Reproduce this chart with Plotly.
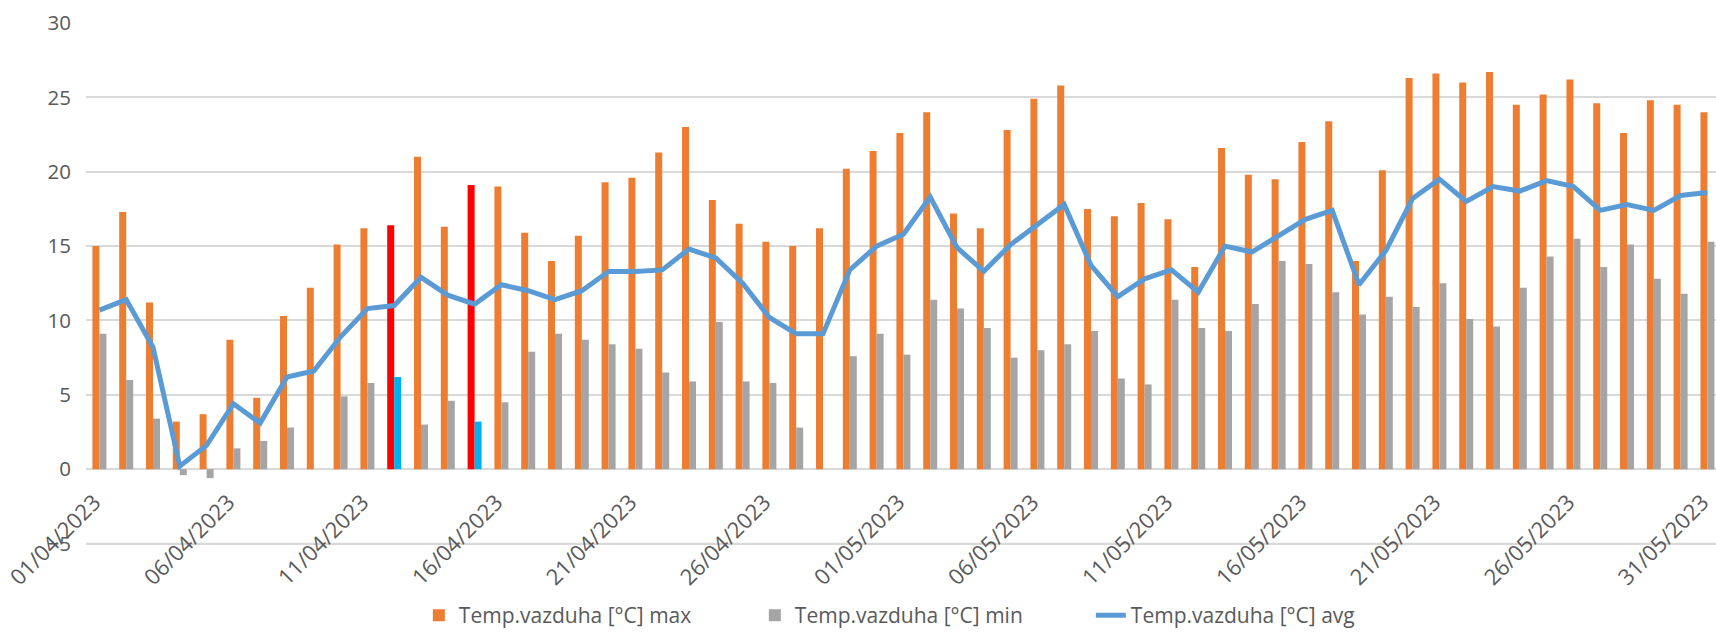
import plotly.graph_objects as go
import pandas as pd

# ---- data -------------------------------------------------------------
dates = [d.strftime("%d/%m/%Y") for d in pd.date_range("2023-04-01", "2023-05-31")]

t_max = [15.0, 17.3, 11.2, 3.2, 3.7, 8.7, 4.8, 10.3, 12.2, 15.1,
         16.2, 16.4, 21.0, 16.3, 19.1, 19.0, 15.9, 14.0, 15.7, 19.3,
         19.6, 21.3, 23.0, 18.1, 16.5, 15.3, 15.0, 16.2, 20.2, 21.4,
         22.6, 24.0, 17.2, 16.2, 22.8, 24.9, 25.8, 17.5, 17.0, 17.9,
         16.8, 13.6, 21.6, 19.8, 19.5, 22.0, 23.4, 14.0, 20.1, 26.3,
         26.6, 26.0, 26.7, 24.5, 25.2, 26.2, 24.6, 22.6, 24.8, 24.5,
         24.0]

t_min = [9.1, 6.0, 3.4, -0.4, -0.6, 1.4, 1.9, 2.8, None, 4.9,
         5.8, 6.2, 3.0, 4.6, 3.2, 4.5, 7.9, 9.1, 8.7, 8.4,
         8.1, 6.5, 5.9, 9.9, 5.9, 5.8, 2.8, None, 7.6, 9.1,
         7.7, 11.4, 10.8, 9.5, 7.5, 8.0, 8.4, 9.3, 6.1, 5.7,
         11.4, 9.5, 9.3, 11.1, 14.0, 13.8, 11.9, 10.4, 11.6, 10.9,
         12.5, 10.1, 9.6, 12.2, 14.3, 15.5, 13.6, 15.1, 12.8, 11.8,
         15.3]

t_avg = [10.7, 11.4, 8.2, 0.2, 1.6, 4.4, 3.1, 6.2, 6.6, 8.9,
         10.8, 11.0, 12.9, 11.7, 11.1, 12.4, 12.0, 11.4, 12.0, 13.3,
         13.3, 13.4, 14.8, 14.2, 12.5, 10.2, 9.1, 9.1, 13.4, 15.0,
         15.8, 18.3, 14.9, 13.3, 15.1, 16.4, 17.8, 13.7, 11.6, 12.8,
         13.4, 11.9, 15.0, 14.6, 15.7, 16.8, 17.4, 12.4, 14.7, 18.2,
         19.5, 18.0, 19.0, 18.7, 19.4, 19.0, 17.4, 17.8, 17.4, 18.4,
         18.6]

highlight_days = ["12/04/2023", "15/04/2023"]
tick_labels = dates[::5]
y_ticks = [-5, 0, 5, 10, 15, 20, 25, 30]

# ---- styling ----------------------------------------------------------
ORANGE, GRAY, BLUE = "#ED7D31", "#A5A5A5", "#5B9BD5"
RED, CYAN = "#FF0000", "#00B0F0"
TXT = "#595959"
GRID = "#D9D9D9"
FONT = "Open Sans"

Y_LO, Y_HI = -5.5, 30.0

max_colors = [RED if d in highlight_days else ORANGE for d in dates]
min_colors = [CYAN if d in highlight_days else GRAY for d in dates]

fig = go.Figure()
fig.add_trace(go.Bar(x=dates, y=t_max, name="Temp.vazduha [°C] max",
                     marker=dict(color=max_colors, line=dict(width=0))))
fig.add_trace(go.Bar(x=dates, y=t_min, name="Temp.vazduha [°C] min",
                     marker=dict(color=min_colors, line=dict(width=0))))
fig.add_trace(go.Scatter(x=dates, y=t_avg, name="Temp.vazduha [°C] avg",
                         mode="lines", line=dict(color=BLUE, width=5)))

# lowest gridline (at the bottom tick) drawn explicitly
fig.add_hline(y=y_ticks[0], line=dict(color=GRID, width=1.8), layer="below")

fig.update_layout(
    width=1716, height=636,
    margin=dict(l=86, r=0, t=23, b=84.5),
    paper_bgcolor="white", plot_bgcolor="white",
    barmode="group", bargap=0.478, bargroupgap=0,
    font=dict(family=FONT, size=20, color=TXT),
    showlegend=True,
    legend=dict(orientation="h", x=0.2042, xanchor="left",
                yref="container", y=0.0, yanchor="bottom",
                font=dict(family=FONT, size=21, color=TXT),
                entrywidth=291, entrywidthmode="pixels",
                bgcolor="rgba(0,0,0,0)"),
    xaxis=dict(type="category", categoryorder="array", categoryarray=dates,
               range=[-0.5, 60.32], automargin=False,
               tickmode="array", tickvals=tick_labels, ticktext=tick_labels,
               tickangle=-45, showgrid=False, showline=False, ticks="",
               anchor="free", position=(0 - Y_LO) / (Y_HI - Y_LO),
               ticklabelstandoff=15, ticklabelshift=-5,
               tickfont=dict(family=FONT, size=22, color=TXT)),
    yaxis=dict(range=[Y_LO, Y_HI], tickmode="array", tickvals=y_ticks,
               automargin=False,
               showgrid=True, gridcolor=GRID, gridwidth=1.8,
               zeroline=True, zerolinecolor=GRID, zerolinewidth=1.8,
               showline=False, ticks="", ticklabelstandoff=14,
               tickfont=dict(family=FONT, size=20.5, color=TXT)),
)

fig.write_html("out.html",
               config={"displayModeBar": False},
               post_script="document.body.style.margin='0px';"
                           "document.body.style.overflow='hidden';")
